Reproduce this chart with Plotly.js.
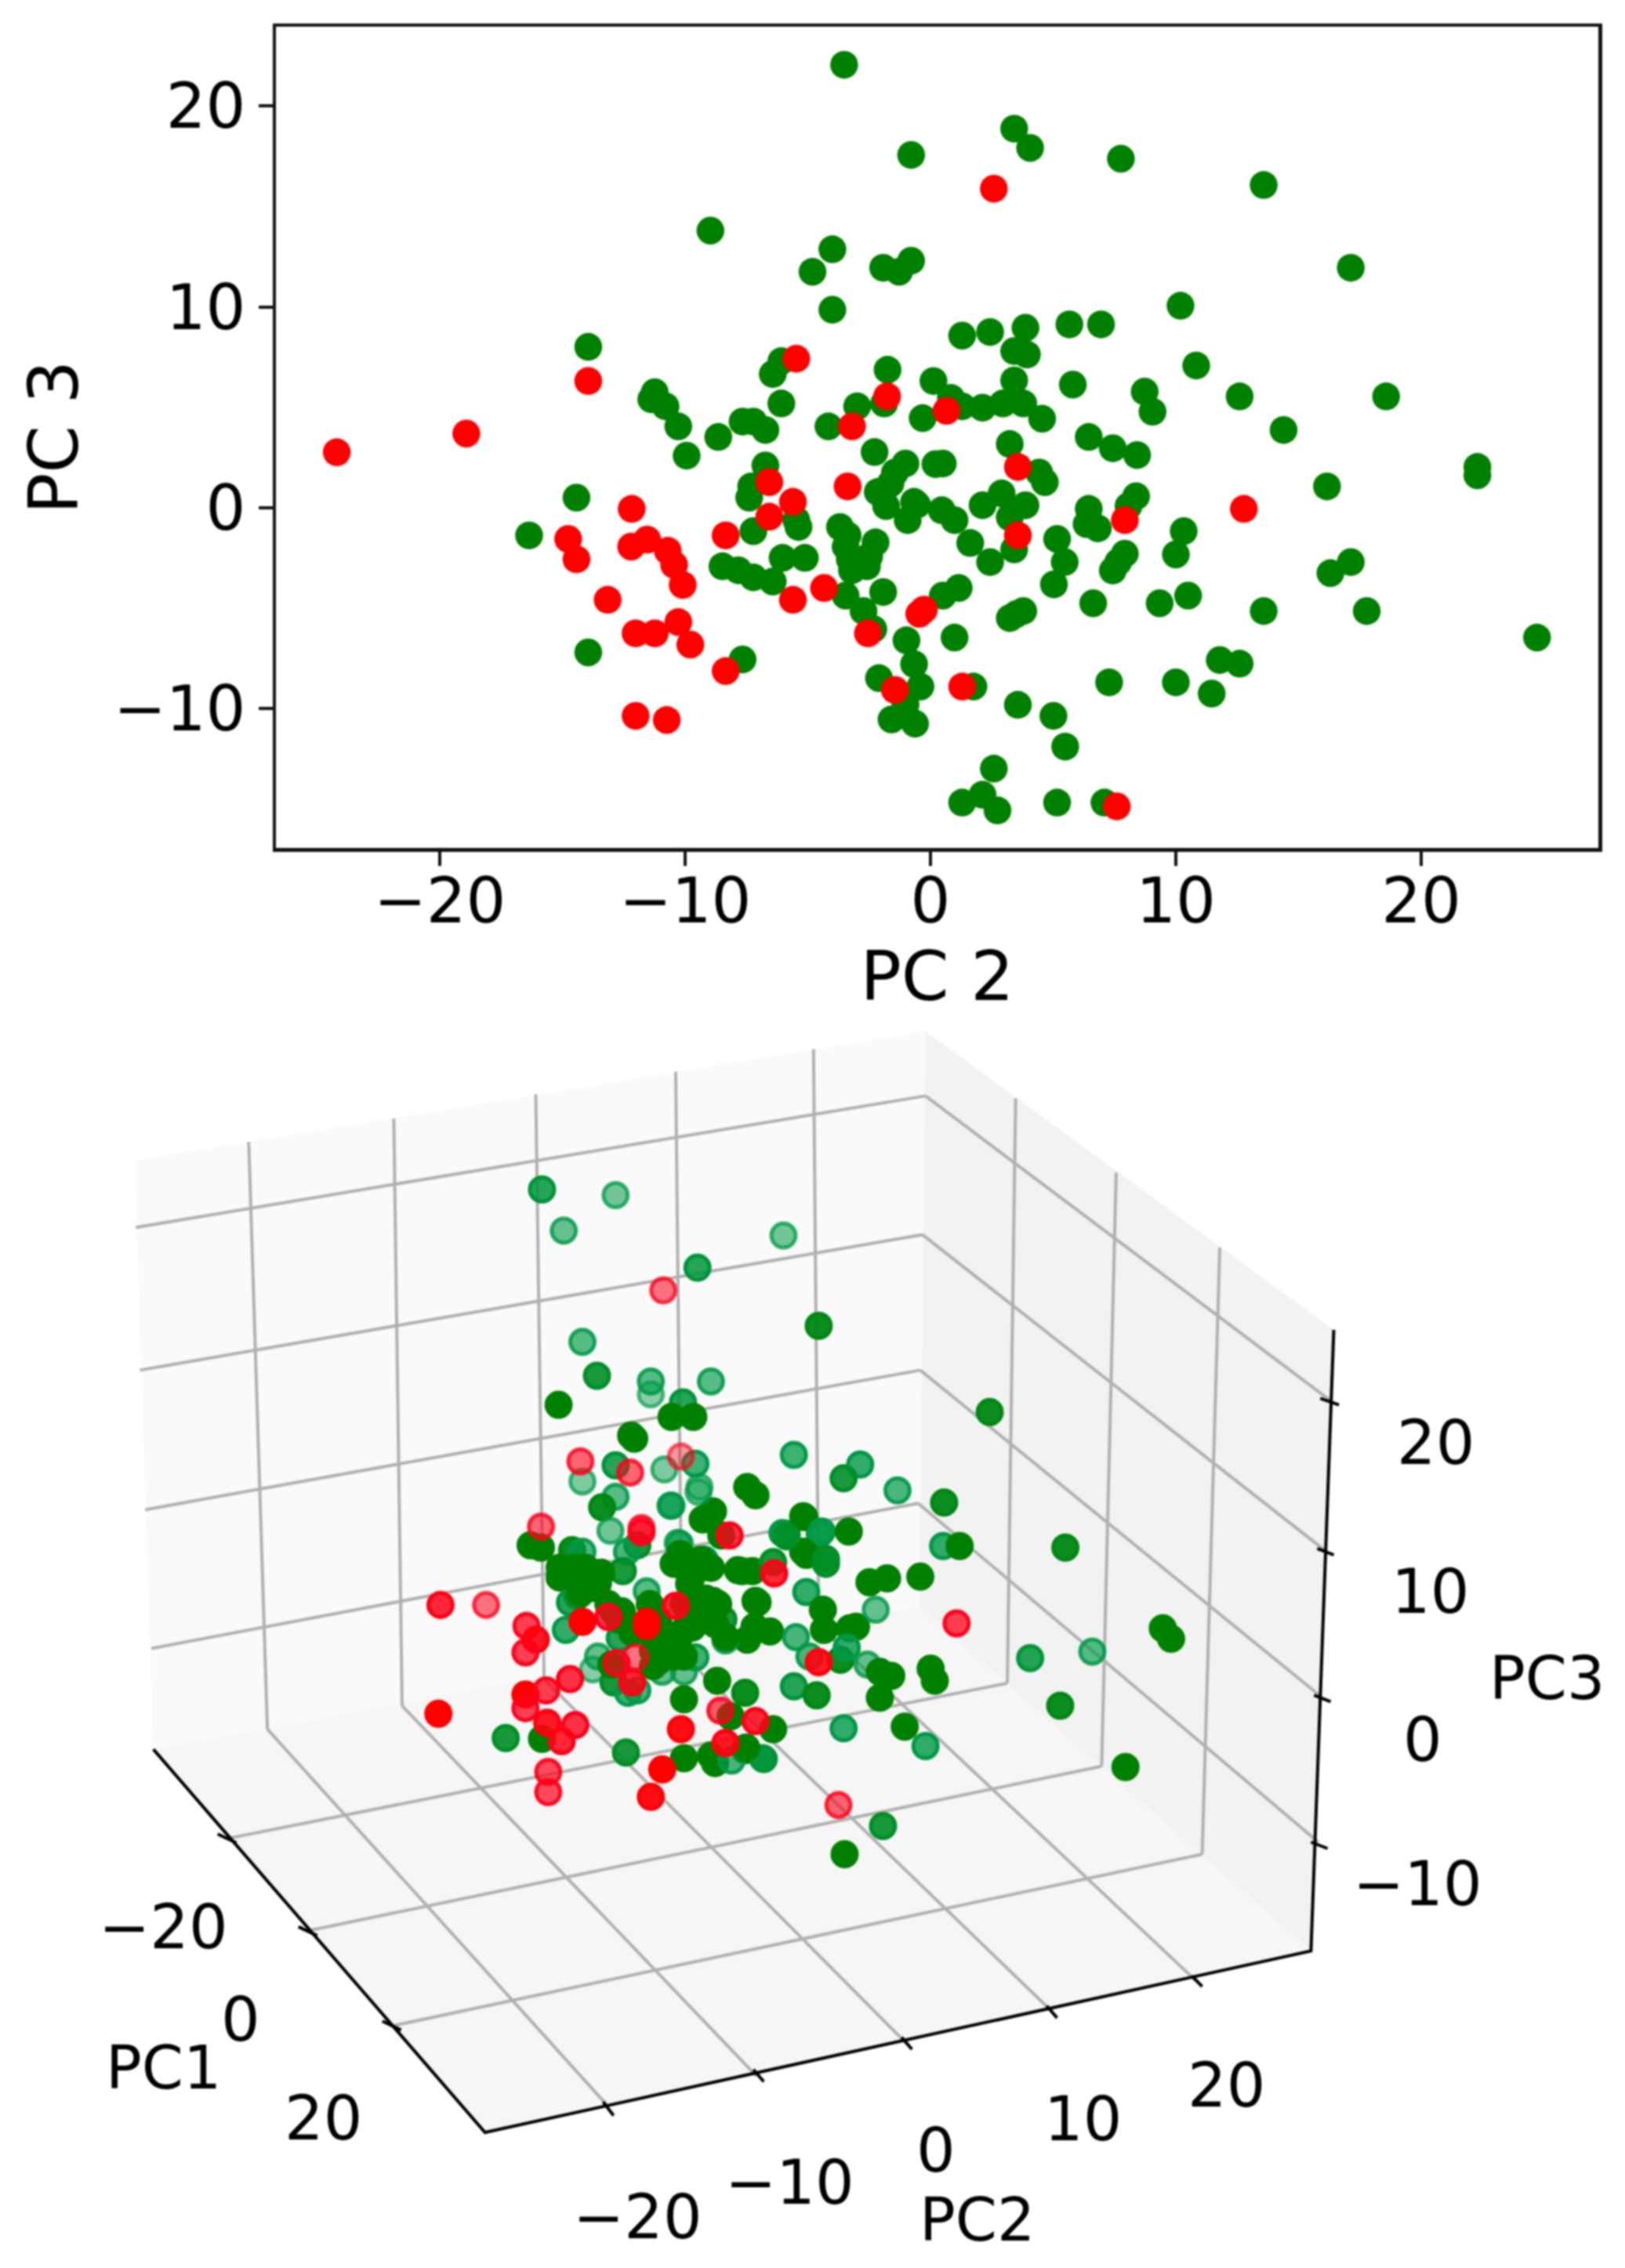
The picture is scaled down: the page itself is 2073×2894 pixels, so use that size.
<!DOCTYPE html>
<html><head><meta charset="utf-8">
<script src="https://cdn.plot.ly/plotly-3.0.1.min.js"></script>
<style>html,body{margin:0;padding:0;background:#fff}#chart{width:2073px;height:2894px;filter:blur(0.9px)}</style>
</head><body><div id="chart"></div>
<script>
// Top panel: PC 2 / PC 3 values
const greenPC2=[-3.52,-0.79,-8.97,-4.0,-4.81,-1.93,-1.28,-0.79,-4.0,-13.95,-6.08,-6.43,-1.75,-11.24,-11.38,-10.8,-10.28,-8.65,-7.66,-7.22,-6.73,-6.08,-2.99,-1.89,-4.16,0.12,-0.32,
3.41,4.06,7.76,13.58,17.13,10.19,1.29,2.43,3.87,5.66,6.95,3.41,3.93,10.83,3.41,5.8,8.73,9.05,12.6,18.57,14.39,1.29,2.12,2.95,3.78,0.83,4.55,3.23,6.45,7.43,8.42,
-9.94,-6.73,-7.31,-7.39,-2.28,-1.02,-1.45,-1.63,-2.15,-1.81,-0.93,-0.67,-14.43,-16.36,-7.22,-5.38,-5.47,-3.69,-3.38,-2.24,-3.46,-2.5,-3.29,-3.2,-2.59,-8.48,-7.83,-7.22,-6.43,-6.03,-5.12,-3.46,-1.93,-2.73,-2.33,-13.95,-7.66,-0.98,-0.67,-0.41,-2.1,-1.02,-1.59,-0.63,0.2,
0.5,4.43,4.66,2.9,2.12,3.87,3.23,-0.55,0.46,0.98,1.62,3.41,2.43,5.16,5.47,6.45,6.36,6.82,8.38,8.07,10.32,10.0,7.92,7.65,7.43,5.03,1.15,0.5,6.63,9.34,10.5,3.78,3.23,3.5,0.98,13.58,17.78,16.16,22.29,22.29,17.13,16.3,24.72,11.79,12.6,11.46,10.0,7.28,1.75,3.56,5.01,5.49,2.58,1.29,2.12,2.73,5.16,7.09];
const greenPC3=[22.06,17.57,13.8,12.87,11.75,11.95,11.75,12.3,9.86,8.01,7.3,6.66,6.87,5.75,5.4,5.05,4.05,3.52,4.29,4.29,3.87,5.19,5.05,5.19,4.05,6.31,4.46,
18.88,17.92,17.38,16.07,11.95,10.06,8.57,8.75,8.96,9.13,9.13,7.8,7.63,7.08,6.34,6.13,5.78,4.78,5.54,5.54,3.87,5.05,4.98,5.19,5.19,5.47,4.43,3.17,3.52,2.96,2.62,
2.59,2.1,1.06,0.5,2.77,2.2,1.75,1.2,0.78,0.08,-0.62,0.29,0.5,-1.38,-1.17,-0.96,-0.62,-0.96,-1.38,-1.73,-1.94,-2.43,-2.57,-3.12,-2.92,-2.92,-3.12,-3.47,-3.68,-2.5,-2.5,-4.38,-4.2,-5.15,-6.05,-7.21,-7.56,-6.61,-7.79,-8.91,-8.49,-9.81,-10.55,-10.76,2.17,
2.2,1.75,1.27,0.71,0.12,0.12,-0.48,0.15,-0.13,-0.62,-1.76,-2.08,-2.71,-1.56,-2.71,-0.06,-0.82,-1.03,0.57,0.08,-1.17,-2.33,-2.29,-2.71,-3.13,-3.82,-4.0,-4.38,-4.76,-4.76,-4.38,-5.15,-5.5,-5.3,-6.47,-5.15,-5.15,1.06,2.03,1.61,-2.71,-3.26,-6.47,-7.59,-7.77,-9.26,-8.7,-8.7,-8.91,-9.82,-10.37,-11.9,-13.0,-14.69,-14.3,-15.08,-14.69,-14.69];
const redPC2=[-5.47,-13.95,-1.77,-3.2,-18.92,2.58,0.65,-24.2,-6.57,-3.38,-5.61,-6.57,-12.18,-8.35,-14.77,-14.43,-12.2,-11.55,-10.71,-10.45,-10.1,-13.16,-5.61,-4.34,-0.46,-0.27,-12.02,-11.24,-10.28,-9.79,-8.35,-2.55,-1.45,-12.02,-10.75,3.56,3.56,7.92,12.77,1.29,7.59];
const redPC3=[7.42,6.31,5.54,4.05,3.69,15.89,4.82,2.76,1.27,1.06,0.29,-0.45,-0.06,-1.38,-1.56,-2.57,-1.94,-1.59,-2.15,-2.85,-3.85,-4.59,-4.59,-4.0,-5.29,-5.08,-6.26,-6.26,-5.7,-6.82,-8.14,-6.26,-9.08,-10.37,-10.58,2.03,-1.38,-0.62,-0.06,-8.91,-14.88];
const tickVals2D=[-20,-10,0,10,20];
const yTickVals2D=[-10,0,10,20];

// Lower panel: the 3-D view
const green3dH=[523,594,544,756,673,790,562,576,628,628,686,539,659,648,669,609,612,955,766,830,814,866,911,721,729,594,562,641,671,675,594,581,647,589,654,688,684,775,759,791,775,512,522,552,562,615,605,648,656,674,678,696,716,726,731,729,721,743,700,746,755,601,540,552,565,577,557,550,624,627,592,546,598,656,643,673,656,678,667,688,688,698,671,660,639,572,577,592,606,615,630,488,523,604,660,692,719,705,660,690,686,719,706,736,746,776,759,793,819,778,797,797,839,856,888,778,794,820,795,826,845,768,910,926,1028,1122,1130,994,1054,1023,1086,781,811,817,837,860,849,898,902,849,766,788,814,873,893,737,720,852,815,650,665,680,712,660,690,640,660,600,590,610,728,700,
 643,656,681,693,668,635,650,630,671,663,540,555,565,580,572,560,656,676,686,587,600,597,635,638,630];
const green3dV=[231,238,282,288,328,400,420,462,469,485,469,498,495,513,513,536,540,507,560,572,589,604,619,600,610,573,593,578,571,600,612,625,623,654,669,630,639,636,658,658,680,672,675,678,680,672,680,623,670,606,640,660,704,704,743,741,789,779,790,693,657,704,712,706,712,719,735,743,729,745,754,777,787,782,810,751,696,696,712,741,764,764,811,829,829,826,810,842,855,852,822,911,912,929,863,840,855,884,936,942,933,926,939,936,900,637,661,655,655,684,689,695,718,713,711,730,752,775,777,773,752,786,673,673,675,775,788,812,804,871,947,810,814,799,820,834,829,825,840,861,847,858,899,897,921,937,923,1020,1055,695,720,690,703,745,770,790,810,760,820,780,773,786,
 797,784,738,745,774,816,810,803,758,771,700,700,700,706,725,732,683,690,700,745,754,764,764,777,784];
const green3dDepth=[0.85,0.55,0.6,0.55,0.85,0.95,0.65,0.9,0.65,0.45,0.65,1,0.85,1,1,1,1,0.95,0.75,0.8,0.9,0.7,0.95,1,1,0.85,0.5,0.5,0.75,0.5,0.65,0.95,0.65,0.55,0.6,1,1,1,0.95,0.8,1,1,1,0.95,0.7,0.9,0.7,0.65,0.6,0.5,1,1,1,1,1,1,1,1,0.65,0.9,0.8,0.9,1,1,1,1,1,0.85,0.65,1,1,0.8,0.85,1,1,1,1,1,1,1,1,0.9,0.75,0.6,0.6,0.45,0.6,0.9,0.75,0.7,1,0.9,1,0.9,1,1,0.95,1,1,1,1,1,0.7,0.85,1,1,0.9,0.8,1,1,0.9,0.9,1,1,1,0.8,1,1,1,1,0.6,0.7,0.8,1,0.95,1,1,0.85,0.65,0.95,1,0.7,0.95,0.8,0.6,1,1,1,1,1,0.85,0.95,0.8,1,0.8,0.85,1,0.9,1,1,1,0.8,1,1,1,1,1,1,1,1,1,1,
 1,1,1,1,1,1,1,1,1,1,1,1,1,1,1,1,1,1,1,1,1,1,1,1,1];
const red3dH=[640,560,608,657,522,619,619,704,747,425,469,508,517,507,550,507,507,527,423,528,555,542,529,529,639,628,657,700,695,729,562,587,624,624,652,595,613,610,923,790,809];
const red3dV=[356,568,582,562,649,651,656,660,707,746,746,772,789,805,838,857,874,852,881,892,895,915,953,978,950,984,900,917,877,890,767,761,767,772,747,818,811,842,769,817,994];
const red3dDepth=[0.55,0.6,0.6,0.4,0.6,0.6,0.7,0.8,0.85,0.85,0.55,0.75,0.9,0.75,0.8,1,0.75,0.75,1,0.9,0.8,0.85,0.7,0.7,1,0.95,0.95,0.9,0.65,0.85,1,0.8,1,1,0.85,0.7,0.55,0.85,0.75,0.9,0.6];

// Box frame of the 3-D view on the same picture plane
const paneLeftH=[130,893,887,148,130], paneLeftV=[195,35,748,925,195];
const paneRightH=[893,1287,1265,887,893], paneRightV=[35,405,1175,748,35];
const paneFloorH=[148,887,1265,468,148], paneFloorV=[925,748,1175,1400,925];
const gridH=[893,1283,null,890,1278,null,888,1275,null,886,1272,null,
  893,131,null,890,135,null,888,140,null,886,146,null,
  240,258,null,380,388,null,517,525,null,652,658,null,785,790,null,
  258,585,null,388,730,null,525,875,null,658,1015,null,790,1155,null,
  980,972,null,1077,1063,null,1177,1160,null,
  972,222,null,1063,297,null,1160,378];
const gridV=[115,492,null,287,678,null,455,860,null,620,1040,null,
  115,278,null,287,455,null,455,628,null,620,800,null,
  172,900,null,143,871,null,113,838,null,85,807,null,57,772,null,
  900,1365,null,871,1330,null,838,1290,null,807,1250,null,772,1213,null,
  118,843,null,210,946,null,303,1055,null,
  843,1035,null,946,1150,null,1055,1268];
const axisH=[148,468,1265,1287], axisV=[925,1400,1175,405];
const tickH=[210,228,null,288,306,null,369,387,null,582,592,null,727,737,null,870,880,null,1010,1020,null,1150,1160,null,1274,1292,null,1271,1287,null,1268,1284,null,1265,1281];
const tickV=[1030,1041,null,1145,1156,null,1262,1273,null,1362,1379,null,1322,1337,null,1282,1297,null,1243,1258,null,1206,1219,null,490,498,null,676,684,null,858,866,null,1040,1048];
const labelText=['\u221220','0','20','PC1','\u221220','\u221210','0','10','20','PC2','20','10','0','\u221210','PC3'];
const labelH=[158,232,312,158,615,762,903,1045,1183,943,1385,1380,1373,1368,1493];
const labelV=[1145,1260,1382,1320,1505,1462,1422,1383,1342,1508,545,730,913,1092,837];

const FONT='"DejaVu Sans", sans-serif';
function shade(base,depth,extra){
  const t=Math.min(1,(1-depth)/0.55*3);
  const g=base==='g'?`0,${Math.round(128+25*t)},${Math.round(70*t)}`:`255,0,${Math.round(25*t)}`;
  return `rgba(${g},${Math.min(1,depth+extra)})`;
}
function pane(h,v,c){return {type:'scatter',mode:'lines',x:h,y:v,xaxis:'x2',yaxis:'y2',fill:'toself',fillcolor:c,line:{width:0},hoverinfo:'skip',showlegend:false};}
function cloud(h,v,d,b){return {type:'scatter',mode:'markers',x:h,y:v,xaxis:'x2',yaxis:'y2',showlegend:false,
  marker:{size:31,color:d.map(a=>shade(b,a,0)),line:{width:5,color:d.map(a=>shade(b,a,0.22))}}};}
const traces=[
 {type:'scatter',mode:'markers',x:greenPC2,y:greenPC3,marker:{size:35.5,color:'#008000'},showlegend:false},
 {type:'scatter',mode:'markers',x:redPC2,y:redPC3,marker:{size:35.5,color:'#ff0000'},showlegend:false},
 pane(paneLeftH,paneLeftV,'#fafafa'),pane(paneRightH,paneRightV,'#f2f2f2'),pane(paneFloorH,paneFloorV,'#f6f6f6'),
 {type:'scatter',mode:'lines',x:gridH,y:gridV,xaxis:'x2',yaxis:'y2',line:{color:'#b0b0b0',width:4},connectgaps:false,showlegend:false,hoverinfo:'skip'},
 {type:'scatter',mode:'lines',x:axisH,y:axisV,xaxis:'x2',yaxis:'y2',line:{color:'#000',width:4},showlegend:false,hoverinfo:'skip'},
 {type:'scatter',mode:'lines',x:tickH,y:tickV,xaxis:'x2',yaxis:'y2',line:{color:'#000',width:4},connectgaps:false,showlegend:false,hoverinfo:'skip'},
 cloud(green3dH,green3dV,green3dDepth,'g'),
 cloud(red3dH,red3dV,red3dDepth,'r')
];
const layout={
 width:2073,height:2894,margin:{l:0,r:0,t:0,b:0},paper_bgcolor:'#fff',plot_bgcolor:'#fff',showlegend:false,
 font:{family:FONT,size:80,color:'#000'},
 xaxis:{domain:[352/2073,2039/2073],range:[-26.68,27.22],anchor:'y',tickmode:'array',tickvals:tickVals2D,ticktext:['\u221220','\u221210','0','10','20'],
   ticks:'outside',ticklen:18,tickwidth:4,tickcolor:'#111',showgrid:false,zeroline:false,showline:true,mirror:true,linecolor:'#111',linewidth:4.5,
   ticklabelstandoff:-24,tickfont:{size:80,family:FONT},title:{text:'PC 2',font:{size:87,family:FONT},standoff:0}},
 yaxis:{domain:[1-1082/2894,1-34/2894],range:[-16.95,23.96],anchor:'x',tickmode:'array',tickvals:yTickVals2D,ticktext:['\u221210','0','10','20'],
   ticks:'outside',ticklen:18,tickwidth:4,tickcolor:'#111',showgrid:false,zeroline:false,showline:true,mirror:true,linecolor:'#111',linewidth:4.5,
   tickfont:{size:80,family:FONT},title:{text:'PC 3',font:{size:87,family:FONT},standoff:17}},
 xaxis2:{domain:[0,1],range:[0,1568],anchor:'y2',visible:false,fixedrange:true},
 yaxis2:{domain:[0,1-1280/2894],range:[1568,0],anchor:'x2',visible:false,fixedrange:true},
 annotations:labelText.map((t,i)=>({text:t,x:labelH[i],y:labelV[i],xref:'x2',yref:'y2',showarrow:false,xanchor:'center',yanchor:'middle',font:{size:t.startsWith('PC')?76:78,family:FONT,color:'#000'}}))
};
Plotly.newPlot('chart',traces,layout,{displayModeBar:false,staticPlot:true});
</script></body></html>
